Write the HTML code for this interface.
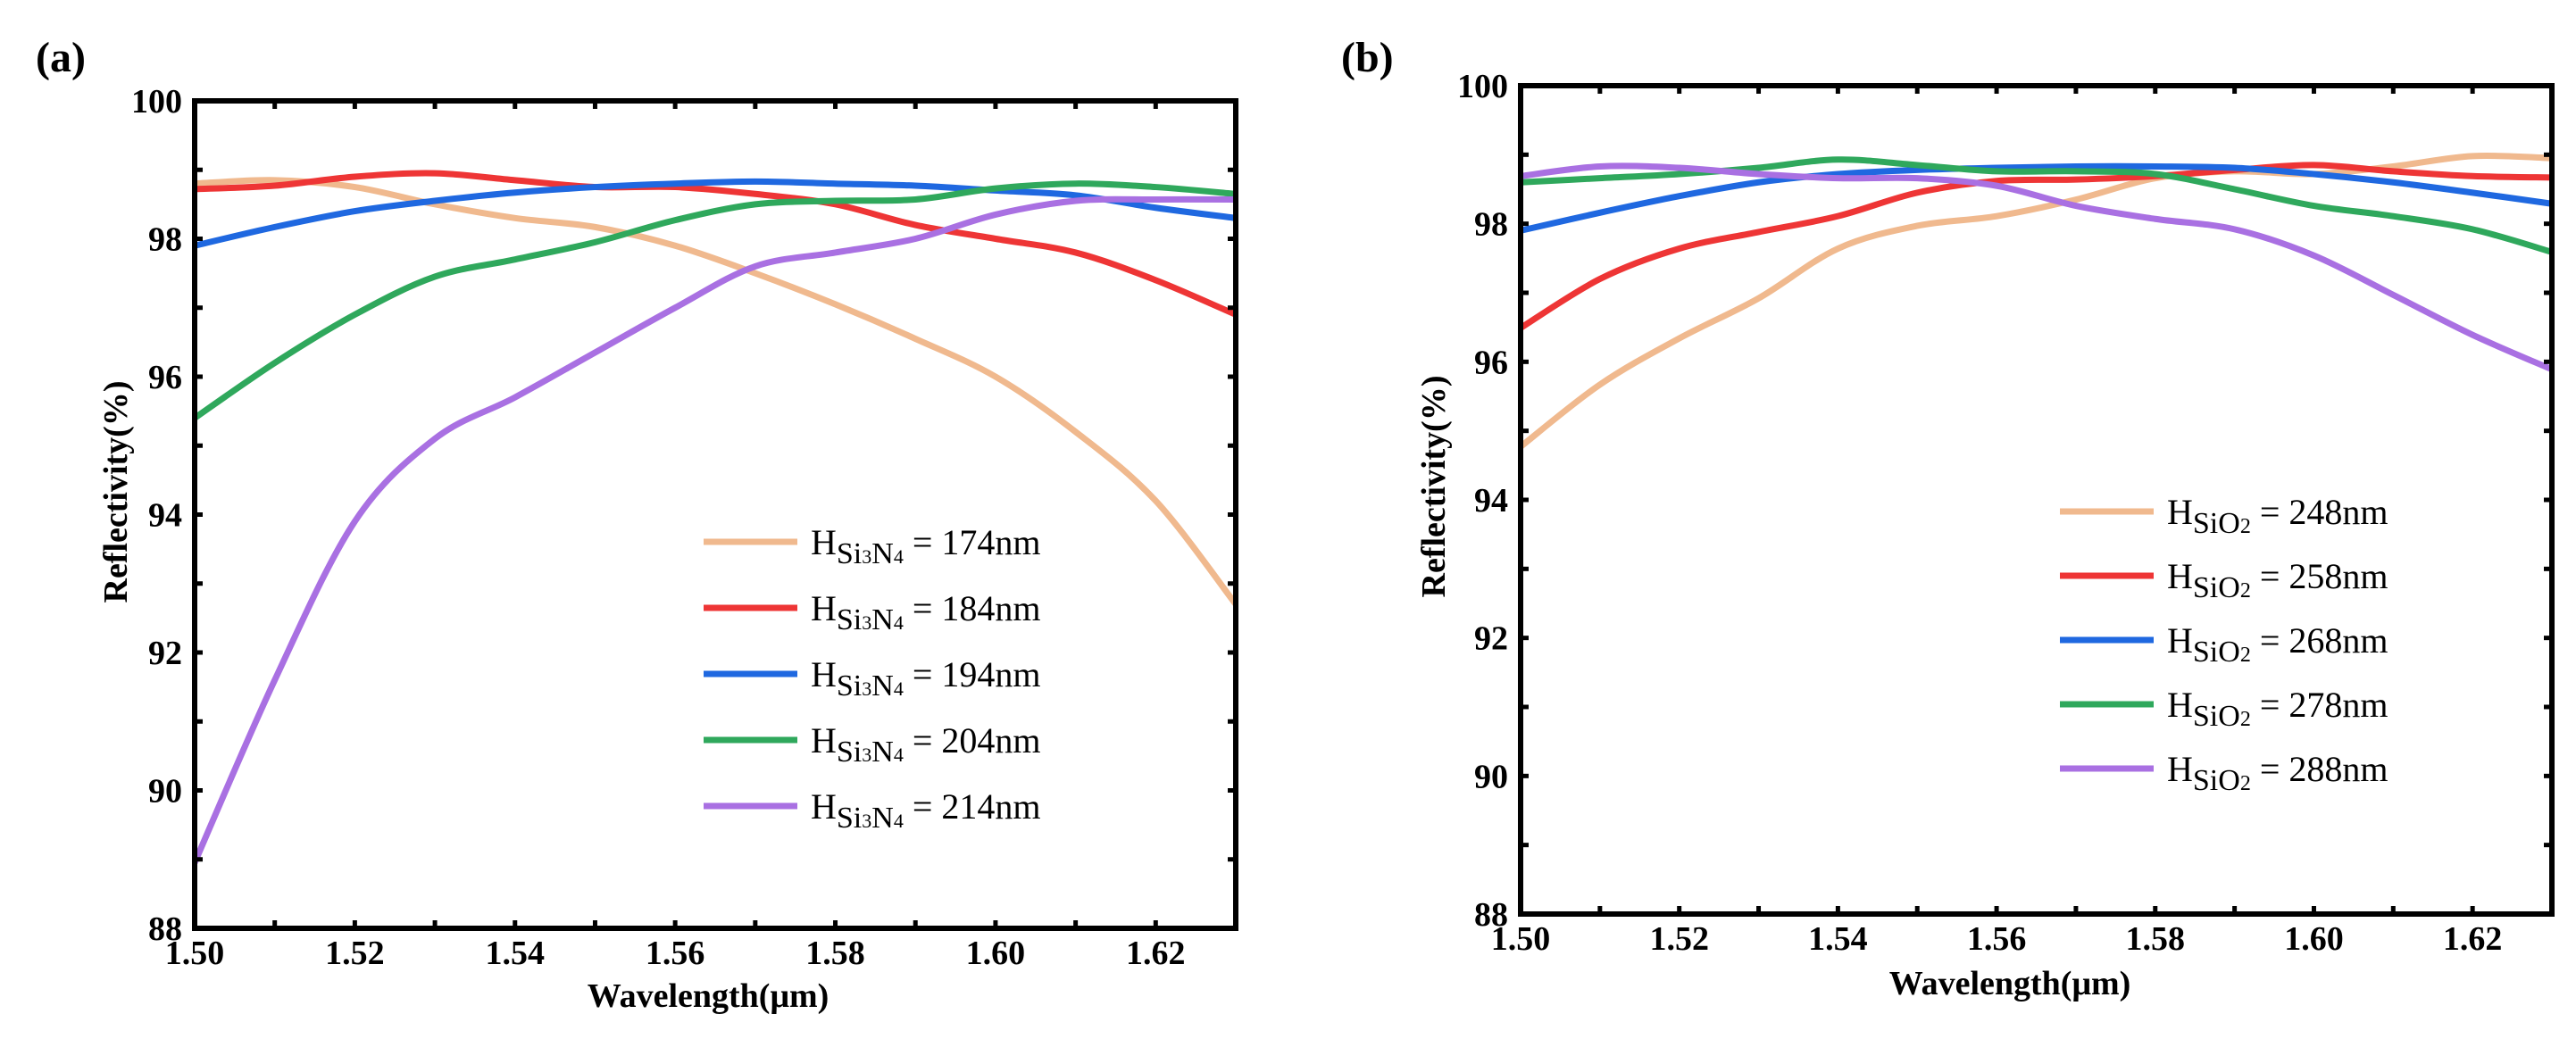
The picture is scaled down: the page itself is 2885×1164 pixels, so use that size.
<!DOCTYPE html>
<html><head><meta charset="utf-8"><style>
html,body{margin:0;padding:0;background:#fff;}
svg{display:block;}
text{font-family:"Liberation Serif",serif;}
</style></head><body>
<svg id="fig" width="2885" height="1164" viewBox="0 0 2885 1164" xmlns="http://www.w3.org/2000/svg"></svg>
<script>
const wavelengths=[1.50,1.51,1.52,1.53,1.54,1.55,1.56,1.57,1.58,1.59,1.60,1.61,1.62,1.63];
const xTicksLabels=["1.50","1.52","1.54","1.56","1.58","1.60","1.62"];
const yTickLabels=["88","90","92","94","96","98","100"];
const colors=["#f0b98e","#ee3535","#1f68e0","#2fa85c","#a970e2"];
const aLabels=["174nm","184nm","194nm","204nm","214nm"];
const bLabels=["248nm","258nm","268nm","278nm","288nm"];
const a174=[98.8,98.85,98.75,98.5,98.3,98.17,97.9,97.5,97.05,96.55,96.0,95.2,94.2,92.7];
const a184=[98.72,98.77,98.9,98.95,98.85,98.75,98.75,98.65,98.5,98.2,98.0,97.8,97.4,96.9];
const a194=[97.9,98.17,98.4,98.55,98.67,98.75,98.8,98.83,98.8,98.77,98.7,98.63,98.45,98.3];
const a204=[95.4,96.2,96.9,97.45,97.7,97.95,98.27,98.5,98.55,98.57,98.73,98.8,98.75,98.65];
const a214=[88.95,91.6,93.9,95.1,95.7,96.35,97.0,97.6,97.8,98.0,98.35,98.55,98.57,98.57];
const b248=[94.77,95.67,96.34,96.92,97.64,97.97,98.11,98.35,98.66,98.76,98.72,98.83,98.98,98.95];
const b258=[96.49,97.2,97.64,97.88,98.11,98.45,98.62,98.64,98.69,98.78,98.85,98.76,98.69,98.67];
const b268=[97.9,98.16,98.4,98.6,98.72,98.78,98.81,98.83,98.83,98.81,98.72,98.6,98.45,98.29];
const b278=[98.6,98.66,98.72,98.81,98.93,98.85,98.76,98.76,98.72,98.5,98.26,98.11,97.92,97.59];
const b288=[98.69,98.83,98.81,98.72,98.66,98.66,98.55,98.26,98.07,97.92,97.54,96.97,96.39,95.89];

const NS="http://www.w3.org/2000/svg";
const svg=document.getElementById('fig');
function el(tag,attrs,parent){const e=document.createElementNS(NS,tag);for(const k in attrs)e.setAttribute(k,attrs[k]);(parent||svg).appendChild(e);return e;}

function panel(cfg){
  const g=el('g',{});
  
  
  const X=v=>cfg.x0+(v-1.50)/(0.13)*(cfg.x1-cfg.x0);
  const Y=v=>cfg.y1-(v-88)/12*(cfg.y1-cfg.y0);
  const pl=el('text',{x:cfg.letterX,y:80,'font-size':48,'font-weight':'bold'},g);pl.textContent=cfg.letter;
  
  
  cfg.series.forEach((s,i)=>{
    const pts=wavelengths.map((w,j)=>[X(w),Y(s[j])]);
    let d='M'+pts[0][0]+','+pts[0][1];
    for(let j=0;j<pts.length-1;j++){
      const p0=pts[Math.max(0,j-1)],p1=pts[j],p2=pts[j+1],p3=pts[Math.min(pts.length-1,j+2)];
      const c1=[p1[0]+(p2[0]-p0[0])/6,p1[1]+(p2[1]-p0[1])/6];
      const c2=[p2[0]-(p3[0]-p1[0])/6,p2[1]-(p3[1]-p1[1])/6];
      d+=' C'+c1[0]+','+c1[1]+' '+c2[0]+','+c2[1]+' '+p2[0]+','+p2[1];
    }
    const p=el('path',{d:d,fill:'none',stroke:colors[i],'stroke-width':7,'stroke-linejoin':'round'},g);
    
    
  });
  const fr=el('rect',{x:cfg.x0,y:cfg.y0,width:cfg.x1-cfg.x0,height:cfg.y1-cfg.y0,fill:'none',stroke:'#000','stroke-width':6},g);
  
  
  for(let k=1;k<13;k++){
    const xv=X(1.50+k*0.01);
    el('line',{x1:xv,x2:xv,y1:cfg.y1,y2:cfg.y1-9,stroke:'#000','stroke-width':5},g);
    el('line',{x1:xv,x2:xv,y1:cfg.y0,y2:cfg.y0+9,stroke:'#000','stroke-width':5},g);
  }
  xTicksLabels.forEach(t=>{
    const tx=el('text',{x:X(parseFloat(t)),y:cfg.tickY,'font-size':38,'font-weight':'bold','text-anchor':'middle'},g);
    tx.textContent=t;
    
    
  });
  for(let v=89;v<100;v++){
    el('line',{x1:cfg.x0,x2:cfg.x0+9,y1:Y(v),y2:Y(v),stroke:'#000','stroke-width':5},g);
    el('line',{x1:cfg.x1,x2:cfg.x1-9,y1:Y(v),y2:Y(v),stroke:'#000','stroke-width':5},g);
  }
  yTickLabels.forEach(t=>{
    const ty=el('text',{x:cfg.x0-14,y:Y(parseFloat(t))+13,'font-size':38,'font-weight':'bold','text-anchor':'end'},g);
    ty.textContent=t;
    
    
  });
  const xt=el('text',{x:cfg.xlabX,y:cfg.xlabY,'font-size':38,'font-weight':'bold','text-anchor':'middle'},g);
  xt.textContent='Wavelength(μm)';
  
  
  const yt=el('text',{x:0,y:0,'font-size':38,'font-weight':'bold','text-anchor':'middle',transform:'translate('+cfg.ylabX+','+cfg.ylabY+') rotate(-90)'},g);
  yt.textContent='Reflectivity(%)';
  
  
  cfg.labels.forEach((lab,i)=>{
    const ly=cfg.legY+i*cfg.legDy;
    const lg=el('g',{},g);
    
    
    el('line',{x1:cfg.legX,x2:cfg.legX+105,y1:ly,y2:ly,stroke:colors[i],'stroke-width':7},lg);
    const t=el('text',{x:cfg.legX+120,y:ly+14,'font-size':40},lg);
    const h=el('tspan',{},t);h.textContent='H';
    if(cfg.letter==='(a)'){
      const s1=el('tspan',{'font-size':34,dy:10},t);s1.textContent='Si';
      const s2=el('tspan',{'font-size':22},t);s2.textContent='3';
      const s3=el('tspan',{'font-size':34},t);s3.textContent='N';
      const s4=el('tspan',{'font-size':22},t);s4.textContent='4';
    } else {
      const s1=el('tspan',{'font-size':34,dy:10},t);s1.textContent='SiO';
      const s2=el('tspan',{'font-size':24},t);s2.textContent='2';
    }
    const r=el('tspan',{dy:-10},t);r.textContent=' = '+lab;
  });
}
panel({name:'panel-a',letter:'(a)',letterX:40,x0:218,x1:1384,y0:113,y1:1040,series:[a174,a184,a194,a204,a214],labels:aLabels,
  tickY:1080,xlabX:793,xlabY:1128,ylabX:142,ylabY:551,legX:788,legY:607,legDy:74});
panel({name:'panel-b',letter:'(b)',letterX:1502,x0:1703,x1:2858,y0:96,y1:1024,series:[b248,b258,b268,b278,b288],labels:bLabels,
  tickY:1064,xlabX:2251,xlabY:1114,ylabX:1618,ylabY:545,legX:2307,legY:573,legDy:72});
</script>
</body></html>
